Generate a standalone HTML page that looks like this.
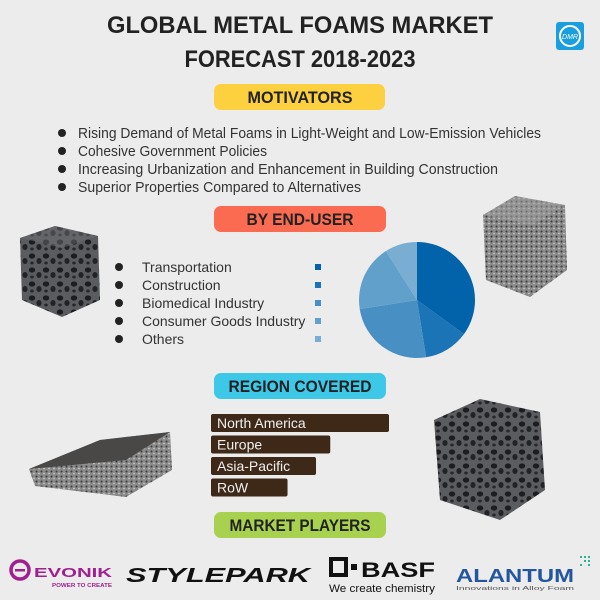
<!DOCTYPE html>
<html><head><meta charset="utf-8"><style>
html,body{margin:0;padding:0;background:#ececec;}
svg{display:block;font-family:"Liberation Sans",sans-serif;}
</style></head><body>
<svg id="chart" width="600" height="600" viewBox="0 0 600 600" xmlns="http://www.w3.org/2000/svg">
<defs>
<pattern id="foam" width="14" height="14" patternUnits="userSpaceOnUse">
<rect width="14" height="14" fill="#5a5c60"/>
<ellipse cx="4" cy="4" rx="3.2" ry="2.6" fill="#1c1d20"/>
<ellipse cx="11" cy="9" rx="2.6" ry="3" fill="#222326"/>
<ellipse cx="4" cy="11" rx="1.8" ry="1.5" fill="#26272a"/>
</pattern>
<pattern id="fine" width="5" height="5" patternUnits="userSpaceOnUse">
<rect width="5" height="5" fill="#8a8a8a"/>
<circle cx="1.5" cy="1.5" r="1" fill="#3c3c3c"/>
<circle cx="4" cy="3.5" r="0.8" fill="#d0d0d0"/>
</pattern>
</defs>
<rect width="600" height="600" fill="#ececec"/>

<text x="300" y="33" text-anchor="middle" font-size="24" font-weight="bold" fill="#222" textLength="386" lengthAdjust="spacingAndGlyphs">GLOBAL METAL FOAMS MARKET</text>
<text x="300" y="67" text-anchor="middle" font-size="24" font-weight="bold" fill="#222" textLength="231" lengthAdjust="spacingAndGlyphs">FORECAST 2018-2023</text>

<g>
<rect x="556" y="22" width="28" height="28" rx="3" fill="#1b9ee0"/>
<circle cx="570" cy="36" r="10" fill="none" stroke="#fff" stroke-width="2"/>
<text x="570" y="39" text-anchor="middle" font-size="7" font-style="italic" fill="#fff">DMR</text>
</g>

<rect x="214" y="84" width="171" height="26" rx="7" fill="#fcd03f"/>
<text x="300" y="103" text-anchor="middle" font-size="17" font-weight="bold" fill="#222" textLength="105" lengthAdjust="spacingAndGlyphs">MOTIVATORS</text>

<g font-size="15" fill="#333">
<circle cx="62" cy="133" r="4" fill="#222"/><text x="78" y="138" textLength="463" lengthAdjust="spacingAndGlyphs">Rising Demand of Metal Foams in Light-Weight and Low-Emission Vehicles</text>
<circle cx="62" cy="151" r="4" fill="#222"/><text x="78" y="156" textLength="189" lengthAdjust="spacingAndGlyphs">Cohesive Government Policies</text>
<circle cx="62" cy="169" r="4" fill="#222"/><text x="78" y="174" textLength="420" lengthAdjust="spacingAndGlyphs">Increasing Urbanization and Enhancement in Building Construction</text>
<circle cx="62" cy="187" r="4" fill="#222"/><text x="78" y="192" textLength="283" lengthAdjust="spacingAndGlyphs">Superior Properties Compared to Alternatives</text>
</g>

<rect x="214" y="206" width="172" height="26" rx="7" fill="#fa6b52"/>
<text x="300" y="225" text-anchor="middle" font-size="17" font-weight="bold" fill="#222" textLength="107" lengthAdjust="spacingAndGlyphs">BY END-USER</text>

<!-- foam images -->
<g>
<polygon points="20,238 55,226 98,236 100,300 62,317 22,300" fill="url(#foam)"/>
<polygon points="20,238 55,226 98,236 62,248" fill="#6b6d70" opacity="0.5"/>
</g>
<g>
<polygon points="483,215 515,196 565,205 567,270 530,297 486,280" fill="url(#fine)"/>
<polygon points="483,215 515,196 565,205 532,225" fill="#a0a0a0" opacity="0.5"/>
</g>
<g>
<polygon points="29,469 100,440 170,432 172,470 126,497 35,486" fill="url(#fine)"/>
<polygon points="29,469 100,440 170,432 126,460" fill="#4a4846"/>
</g>
<g>
<polygon points="434,420 480,399 540,412 545,490 500,520 440,500" fill="url(#foam)"/>
</g>

<g id="legend"></g>
<g id="pie"></g>

<rect x="214" y="373" width="172" height="26" rx="7" fill="#3ec8e8"/>
<text x="300" y="392" text-anchor="middle" font-size="17" font-weight="bold" fill="#222" textLength="143" lengthAdjust="spacingAndGlyphs">REGION COVERED</text>
<g id="bars"></g>

<rect x="214" y="512" width="172" height="26" rx="7" fill="#a8d150"/>
<text x="300" y="531" text-anchor="middle" font-size="17" font-weight="bold" fill="#222" textLength="141" lengthAdjust="spacingAndGlyphs">MARKET PLAYERS</text>

<g>
<circle cx="20" cy="570" r="9" fill="none" stroke="#a0208f" stroke-width="3.5"/>
<rect x="15" y="569" width="10" height="2.5" fill="#a0208f"/>
<text x="34" y="577" font-size="13" font-weight="bold" fill="#a0208f" textLength="78" lengthAdjust="spacingAndGlyphs">EVONIK</text>
<text x="52" y="587" font-size="5.5" font-weight="bold" fill="#a0208f" textLength="60" lengthAdjust="spacingAndGlyphs">POWER TO CREATE</text>
</g>
<text x="126" y="582" font-size="20" font-weight="bold" font-style="italic" fill="#111" textLength="184" lengthAdjust="spacingAndGlyphs">STYLEPARK</text>
<g>
<rect x="331" y="559" width="15" height="16" fill="none" stroke="#111" stroke-width="4"/>
<rect x="351" y="564" width="6" height="6" fill="#111"/>
<text x="361" y="577" font-size="21" font-weight="bold" fill="#111" textLength="74" lengthAdjust="spacingAndGlyphs">BASF</text>
<text x="329" y="592" font-size="11" fill="#111" textLength="106" lengthAdjust="spacingAndGlyphs">We create chemistry</text>
</g>
<g>
<text x="456" y="582" font-size="18" font-weight="bold" fill="#2456a0" textLength="118" lengthAdjust="spacingAndGlyphs">ALANTUM</text>
<text x="456" y="590" font-size="5.5" fill="#555" textLength="118" lengthAdjust="spacingAndGlyphs">Innovations in Alloy Foam</text>
<g fill="#2bb39a"><rect x="580" y="556" width="2" height="2"/><rect x="584" y="556" width="2" height="2"/><rect x="588" y="556" width="2" height="2"/><rect x="584" y="560" width="2" height="2"/><rect x="588" y="560" width="2" height="2"/><rect x="580" y="564" width="2" height="2"/><rect x="588" y="564" width="2" height="2"/></g>
</g>
</svg>
<script>
const segments = ["Transportation","Construction","Biomedical Industry","Consumer Goods Industry","Others"];
const shares = [35, 12.5, 25, 18.5, 9];
const sliceColors = ["#0263ab","#1a74b6","#4890c4","#62a0cc","#7aadd2"];
const regions = ["North America","Europe","Asia-Pacific","RoW"];
const regionValues = [100, 67, 59, 43];

const NS = "http://www.w3.org/2000/svg";
function mk(tag, attrs, parent){const e=document.createElementNS(NS,tag);for(const k in attrs)e.setAttribute(k,attrs[k]);parent.appendChild(e);return e;}

// legend
const lg = document.getElementById('legend');
segments.forEach((s,i)=>{
  const y = 267 + i*18;
  const d = mk('circle',{cx:119,cy:y,r:4,fill:'#222'},lg);
  
  
  const t = mk('text',{x:142,y:y+5,'font-size':14,fill:'#333'},lg);
  t.textContent = s;
  
  
  const sq = mk('rect',{x:315,y:y-3,width:6,height:6,fill:sliceColors[i]},lg);
  
  
});

// pie
const pg = document.getElementById('pie');
const cx=417, cy=300, r=58;
const total = shares.reduce((a,b)=>a+b,0);
let a0 = 0;
shares.forEach((v,i)=>{
  const a1 = a0 + v/total*2*Math.PI;
  const x0=cx+r*Math.sin(a0), y0=cy-r*Math.cos(a0);
  const x1=cx+r*Math.sin(a1), y1=cy-r*Math.cos(a1);
  const large = (a1-a0)>Math.PI?1:0;
  const p = mk('path',{d:`M${cx},${cy} L${x0},${y0} A${r},${r} 0 ${large} 1 ${x1},${y1} Z`,fill:sliceColors[i]},pg);
  
  
  a0 = a1;
});

// bars
const bg = document.getElementById('bars');
const bx=211, bmax=178;
regions.forEach((reg,i)=>{
  const y = 414 + i*21.5;
  const w = regionValues[i]/100*bmax;
  const b = mk('rect',{x:bx,y:y,width:w,height:18,rx:2,fill:'#3e2818'},bg);
  
  
  const t = mk('text',{x:bx+6,y:y+14,'font-size':14,fill:'#f0f0f0'},bg);
  t.textContent = reg;
  
  
});
</script>
</body></html>
